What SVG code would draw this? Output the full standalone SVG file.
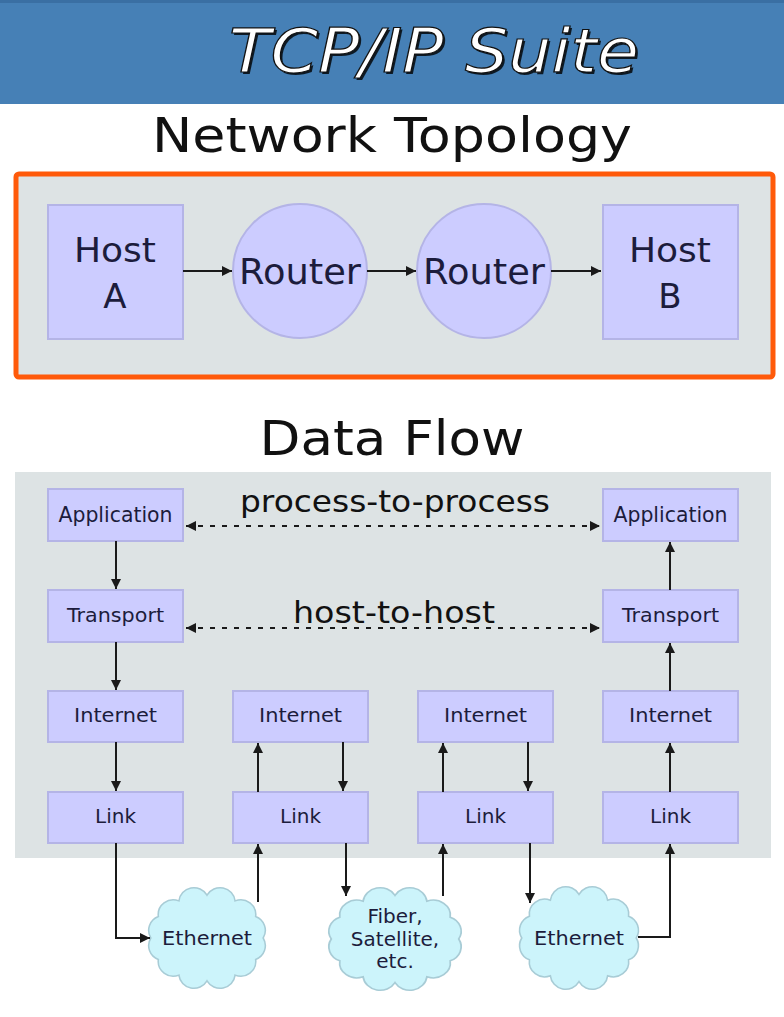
<svg xmlns="http://www.w3.org/2000/svg" xmlns:xlink="http://www.w3.org/1999/xlink" width="784" height="1017" viewBox="0 0 784 1017">
<style>
.box{fill:#ccccff;stroke:#b4b4e6;stroke-width:2}
.cloud{fill:#ccf4fb;stroke:#a8ccd6;stroke-width:1.5}
.lbl{font-family:"DejaVu Sans",sans-serif;fill:#1c1c3c;text-anchor:middle}
.big{font-family:"DejaVu Sans",sans-serif;fill:#111;text-anchor:middle}
.ln{stroke:#1a1a1a;stroke-width:2;fill:none}
.dot{stroke:#1a1a1a;stroke-width:2;fill:none;stroke-dasharray:5,7}
</style>
<defs>
<marker id="ah" viewBox="0 0 10 10" refX="10" refY="5" markerWidth="5" markerHeight="5" orient="auto-start-reverse" markerUnits="strokeWidth">
<path d="M0,0 L10,5 L0,10 z" fill="#1a1a1a"/>
</marker>
<path id="cloudp" d="M54,0 A14.5,14.5 0 0 1 46.77,21 A14.5,14.5 0 0 1 27,36.37 A14.5,14.5 0 0 1 0,42 A14.5,14.5 0 0 1 -27,36.37 A14.5,14.5 0 0 1 -46.77,21 A14.5,14.5 0 0 1 -54,0 A14.5,14.5 0 0 1 -46.77,-21 A14.5,14.5 0 0 1 -27,-36.37 A14.5,14.5 0 0 1 0,-42 A14.5,14.5 0 0 1 27,-36.37 A14.5,14.5 0 0 1 46.77,-21 A14.5,14.5 0 0 1 54,0 Z"/>
</defs>
<rect width="784" height="1017" fill="#ffffff"/>
<g id="header">
<rect x="0" y="0" width="784" height="104" fill="#4680b6"/>
<rect x="0" y="0" width="784" height="3" fill="#3a6fa3"/>
<text x="434" y="72" font-family="DejaVu Sans,sans-serif" font-style="italic" font-size="60" text-anchor="middle" fill="#000" opacity="0.8" transform="translate(2,2)" textLength="410" lengthAdjust="spacingAndGlyphs">TCP/IP Suite</text>
<text x="434" y="72" font-family="DejaVu Sans,sans-serif" font-style="italic" font-size="60" text-anchor="middle" fill="#ffffff" stroke="#111" stroke-width="1.2" textLength="410" lengthAdjust="spacingAndGlyphs">TCP/IP Suite</text>
</g>
<text class="big" x="392" y="152" font-size="48" textLength="480" lengthAdjust="spacingAndGlyphs">Network Topology</text>
<g id="topology">
<rect x="16" y="174" width="757" height="203" rx="3" fill="#dde3e4" stroke="#ff5a0a" stroke-width="5"/>
</g>
<g id="hostA"><rect class="box" x="48" y="205" width="135" height="134"/>
<text class="lbl" x="115" y="262" font-size="34" textLength="82" lengthAdjust="spacingAndGlyphs">Host</text><text class="lbl" x="115" y="308" font-size="34">A</text></g>
<g id="router1"><circle class="box" cx="300" cy="271" r="67"/><text class="lbl" x="300" y="284" font-size="36" textLength="122" lengthAdjust="spacingAndGlyphs">Router</text></g>
<g id="router2"><circle class="box" cx="484" cy="271" r="67"/><text class="lbl" x="484" y="284" font-size="36" textLength="122" lengthAdjust="spacingAndGlyphs">Router</text></g>
<g id="hostB"><rect class="box" x="603" y="205" width="135" height="134"/>
<text class="lbl" x="670" y="262" font-size="34" textLength="82" lengthAdjust="spacingAndGlyphs">Host</text><text class="lbl" x="670" y="308" font-size="34">B</text></g>

<text class="big" x="392" y="455" font-size="48" textLength="265" lengthAdjust="spacingAndGlyphs">Data Flow</text>
<rect x="15" y="472" width="756" height="386" fill="#dde3e4"/>

<g id="app1"><rect class="box" x="48" y="489" width="135" height="52"/><text class="lbl" x="115.5" y="522" font-size="21" textLength="114" lengthAdjust="spacingAndGlyphs">Application</text></g>
<g id="trans1"><rect class="box" x="48" y="590" width="135" height="52"/><text class="lbl" x="115.5" y="622" font-size="20" textLength="97" lengthAdjust="spacingAndGlyphs">Transport</text></g>
<g id="inet1"><rect class="box" x="48" y="691" width="135" height="51"/><text class="lbl" x="115.5" y="722" font-size="20" textLength="83" lengthAdjust="spacingAndGlyphs">Internet</text></g>
<g id="link1"><rect class="box" x="48" y="792" width="135" height="51"/><text class="lbl" x="115.5" y="823" font-size="20">Link</text></g>
<g id="inet2"><rect class="box" x="233" y="691" width="135" height="51"/><text class="lbl" x="300.5" y="722" font-size="20" textLength="83" lengthAdjust="spacingAndGlyphs">Internet</text></g>
<g id="link2"><rect class="box" x="233" y="792" width="135" height="51"/><text class="lbl" x="300.5" y="823" font-size="20">Link</text></g>
<g id="inet3"><rect class="box" x="418" y="691" width="135" height="51"/><text class="lbl" x="485.5" y="722" font-size="20" textLength="83" lengthAdjust="spacingAndGlyphs">Internet</text></g>
<g id="link3"><rect class="box" x="418" y="792" width="135" height="51"/><text class="lbl" x="485.5" y="823" font-size="20">Link</text></g>
<g id="app4"><rect class="box" x="603" y="489" width="135" height="52"/><text class="lbl" x="670.5" y="522" font-size="21" textLength="114" lengthAdjust="spacingAndGlyphs">Application</text></g>
<g id="trans4"><rect class="box" x="603" y="590" width="135" height="52"/><text class="lbl" x="670.5" y="622" font-size="20" textLength="97" lengthAdjust="spacingAndGlyphs">Transport</text></g>
<g id="inet4"><rect class="box" x="603" y="691" width="135" height="51"/><text class="lbl" x="670.5" y="722" font-size="20" textLength="83" lengthAdjust="spacingAndGlyphs">Internet</text></g>
<g id="link4"><rect class="box" x="603" y="792" width="135" height="51"/><text class="lbl" x="670.5" y="823" font-size="20">Link</text></g>

<g id="cloud1"><use href="#cloudp" class="cloud" transform="translate(207,938) scale(1.04,1.02)"/><text class="lbl" x="207" y="945" font-size="20" fill="#163838" textLength="90" lengthAdjust="spacingAndGlyphs">Ethernet</text></g>
<g id="cloud2"><use href="#cloudp" class="cloud" transform="translate(395,939) scale(1.18,1.04)"/><text class="lbl" x="395" y="923" font-size="20" fill="#163838">Fiber,</text><text class="lbl" x="395" y="946" font-size="20" fill="#163838">Satellite,</text><text class="lbl" x="395" y="968" font-size="20" fill="#163838">etc.</text></g>
<g id="cloud3"><use href="#cloudp" class="cloud" transform="translate(579,938) scale(1.06,1.04)"/><text class="lbl" x="579" y="945" font-size="20" fill="#163838" textLength="90" lengthAdjust="spacingAndGlyphs">Ethernet</text></g>

<text class="big" x="395" y="512" font-size="30" textLength="310" lengthAdjust="spacingAndGlyphs">process-to-process</text>
<text class="big" x="394" y="623" font-size="30" textLength="202" lengthAdjust="spacingAndGlyphs">host-to-host</text>

<g id="connectors">
<line class="ln" x1="183" y1="271" x2="232" y2="271" marker-end="url(#ah)"/>
<line class="ln" x1="367" y1="271" x2="416" y2="271" marker-end="url(#ah)"/>
<line class="ln" x1="551" y1="271" x2="601" y2="271" marker-end="url(#ah)"/>
<line class="dot" x1="186" y1="526" x2="600" y2="526" marker-start="url(#ah)" marker-end="url(#ah)"/>
<line class="dot" x1="186" y1="628" x2="600" y2="628" marker-start="url(#ah)" marker-end="url(#ah)"/>
<line class="ln" x1="116" y1="541" x2="116" y2="589" marker-end="url(#ah)"/>
<line class="ln" x1="116" y1="642" x2="116" y2="690" marker-end="url(#ah)"/>
<line class="ln" x1="116" y1="742" x2="116" y2="791" marker-end="url(#ah)"/>
<line class="ln" x1="258" y1="792" x2="258" y2="743" marker-end="url(#ah)"/>
<line class="ln" x1="343" y1="742" x2="343" y2="791" marker-end="url(#ah)"/>
<line class="ln" x1="443" y1="792" x2="443" y2="743" marker-end="url(#ah)"/>
<line class="ln" x1="528" y1="742" x2="528" y2="791" marker-end="url(#ah)"/>
<line class="ln" x1="670" y1="792" x2="670" y2="743" marker-end="url(#ah)"/>
<line class="ln" x1="670" y1="691" x2="670" y2="643" marker-end="url(#ah)"/>
<line class="ln" x1="670" y1="590" x2="670" y2="542" marker-end="url(#ah)"/>
<polyline class="ln" points="116,843 116,938 150,938" marker-end="url(#ah)"/>
<line class="ln" x1="258" y1="902" x2="258" y2="844" marker-end="url(#ah)"/>
<line class="ln" x1="346" y1="843" x2="346" y2="896" marker-end="url(#ah)"/>
<line class="ln" x1="443" y1="896" x2="443" y2="844" marker-end="url(#ah)"/>
<line class="ln" x1="530" y1="843" x2="530" y2="903" marker-end="url(#ah)"/>
<polyline class="ln" points="638,937 670,937 670,844" marker-end="url(#ah)"/>
</g>
</svg>
